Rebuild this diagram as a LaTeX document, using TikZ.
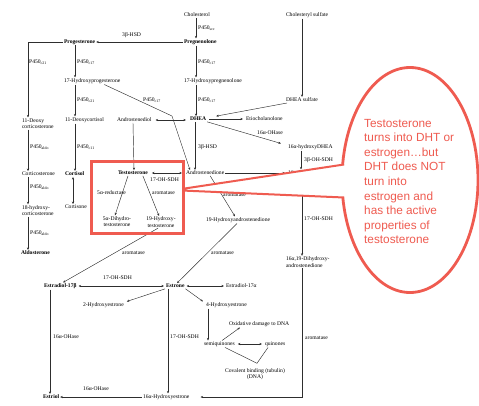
\documentclass[tikz,border=0pt]{standalone}
\usepackage{fontspec}
\setmainfont{Liberation Serif}
\newfontfamily\notefont{Liberation Sans}
\usetikzlibrary{arrows.meta,shapes.geometric}
\definecolor{callred}{HTML}{EF5B50}
\definecolor{inkgray}{HTML}{2E2E2E}

\begin{document}
\begin{tikzpicture}[x=1pt, y=-1pt,
  font=\fontsize{5.6}{6.4}\selectfont,
  chem/.style={inner sep=0.8pt, align=left, anchor=west},
  key/.style={chem, font=\fontsize{5.6}{6.4}\selectfont\bfseries},
  enz/.style={anchor=west, inner sep=0pt},
  ar/.style={-{Stealth[length=2.6pt,width=2.2pt]}, draw=inkgray, line width=0.45pt},
  dar/.style={{Stealth[length=2.6pt,width=2.2pt]}-{Stealth[length=2.6pt,width=2.2pt]},
              draw=inkgray, line width=0.45pt},
  ln/.style={draw=inkgray, line width=0.45pt},
  hlbox/.style={draw=callred, line width=3pt},
  note/.style={ellipse, draw=callred, line width=2.8pt, fill=white,
               minimum width=136pt, minimum height=225pt, inner sep=0pt}
]
\useasboundingbox (0,0) rectangle (479,405);

% compounds
\node[chem] (chol) at (183,15) {Cholesterol};
\node[chem] (chs) at (285,15) {Cholesteryl sulfate};
\node[key] (preg) at (183,42) {Pregnenolone};
\node[key] (prog) at (63,42) {Progesterone};
\node[chem] (ohprog) at (63,81) {17-Hydroxyprogesterone};
\node[chem] (ohpreg) at (183,81) {17-Hydroxypregnenolone};
\node[chem] (dheas) at (285,100) {DHEA sulfate};
\node[chem] (doc) at (21,123.5) {11-Deoxy\\corticosterone};
\node[chem] (dcort) at (64,120) {11-Deoxycortisol};
\node[chem] (adiol) at (116,120) {Androstenediol};
\node[key] (dhea) at (189,119) {DHEA};
\node[chem] (etio) at (245,119) {Etiocholanolone};
\node[chem] (ohdhea) at (287,147) {16α-hydroxyDHEA};
\node[chem] (cortico) at (21,174) {Corticosterone};
\node[key] (cortisol) at (64,174) {Cortisol};
\node[key] (testo) at (117,173) {Testosterone};
\node[chem] (andro) at (185,173) {Androstenedione};
\node[chem] (ohandro) at (287,173) {16α-Hydroxyandrostenedione};
\node[chem] (cortisone) at (64,207) {Cortisone};
\node[chem] (ohcort) at (21,210.5) {18-hydroxy-\\corticosterone};
\node[chem, anchor=center, align=center] (dht) at (117,221.5) {5α-Dihydro-\\testosterone};
\node[chem, anchor=center, align=center] (ohtesto) at (161,222) {19-Hydroxy-\\testosterone};
\node[chem] (oh19andro) at (205,220) {19-Hydroxyandrostenedione};
\node[key] (aldo) at (20,253) {Aldosterone};
\node[chem] (dioh) at (285,262) {16α,19-Dihydroxy-\\androstenedione};
\node[key] (e2b) at (43,286) {Estradiol-17β};
\node[key] (e1) at (165,286) {Estrone};
\node[chem] (e2a) at (225,286) {Estradiol-17α};
\node[chem] (oh2e1) at (82,305) {2-Hydroxyestrone};
\node[chem] (oh4e1) at (205,305) {4-Hydroxyestrone};
\node[chem] (oxdna) at (228,324) {Oxidative damage to DNA};
\node[chem] (semi) at (203,344) {semiquinones};
\node[chem] (quin) at (264,344) {quinones};
\node[chem, anchor=center, align=center] (cova) at (255,374) {Covalent binding (tubulin)\\(DNA)};
\node[key] (e3) at (42,397) {Estriol};
\node[chem] (oh16e1) at (142,397) {16α-Hydroxyestrone};

% top of the pathway
\draw[ar] ([xshift=13pt]chol.south west) -- ([xshift=13pt]preg.north west);
\node[enz] at (198,28) {P450\textsubscript{scc}};
\draw[ar] (preg.west) -- (prog.east);
\node[enz] at (122,35) {3β-HSD};
\coordinate (bendL) at (28,42);
\draw[ar] (prog.west) -- (bendL) -- (bendL |- doc.north);
\node[enz] at (29,62) {P450\textsubscript{c21}};
\draw[ar] ([xshift=12pt]prog.south west) -- ([xshift=12pt]ohprog.north west);
\node[enz] at (77,62) {P450\textsubscript{c17}};
\draw[ar] ([xshift=13pt]preg.south west) -- ([xshift=13pt]ohpreg.north west);
\node[enz] at (198,62) {P450\textsubscript{c17}};
\draw[ar] ([xshift=17pt]chs.south west) -- ([xshift=17pt]dheas.north west);

% corticoids
\draw[ar] ([xshift=12pt]ohprog.south west) -- ([xshift=11pt]dcort.north west);
\node[enz] at (77,100) {P450\textsubscript{c21}};
\draw[ar] ([xshift=11pt]dcort.south west) -- ([xshift=11pt]cortisol.north west);
\node[enz] at (77,147) {P450\textsubscript{c11}};
\draw[dar] ([xshift=9pt]cortisol.south west) -- ([xshift=9pt]cortisone.north west);
\draw[ar] ([xshift=7pt]doc.south west) -- ([xshift=7pt]cortico.north west);
\node[enz] at (30,147) {P450\textsubscript{aldo}};
\draw[ar] ([xshift=7pt]cortico.south west) -- ([xshift=7pt]ohcort.north west);
\node[enz] at (30,187) {P450\textsubscript{aldo}};
\draw[ar] ([xshift=7pt]ohcort.south west) -- ([xshift=8pt]aldo.north west);
\node[enz] at (30,233) {P450\textsubscript{aldo}};

% androgens
\coordinate (bend17) at (172,116);
\draw[ar] ([xshift=-17pt]ohprog.south east) -- (bend17) -- ([xshift=5pt]andro.north west);
\node[enz] at (143,100) {P450\textsubscript{c17}};
\draw[ar] ([xshift=13pt]ohpreg.south west) -- ([xshift=7pt]dhea.north west);
\node[enz] at (198,100) {P450\textsubscript{c17}};
\draw[ar] ([xshift=2pt]dheas.south west) -- ([xshift=9pt]dhea.north east);
\draw[dar, shorten <=3pt, shorten >=3pt] (adiol.east) -- (adiol.east -| dhea.west);
\draw[ar, shorten <=2pt, shorten >=2pt] (dhea.east) -- (etio.west);
\draw[ar] (dhea.south east) -- ([xshift=-6pt]ohdhea.north west);
\node[enz] at (257,133) {16α-OHase};
\draw[ar] ([xshift=14pt]ohdhea.south west) -- ([xshift=14pt]ohandro.north west);
\node[enz] at (304,160) {3β-OH-SDH};
\draw[ar] ([xshift=6pt]dhea.south west) -- ([xshift=10pt]andro.north west);
\node[enz] at (198,147) {3β-HSD};
\draw[ar, shorten >=2pt] (andro.east) -- (ohandro.west);
\draw[dar, shorten <=3pt, shorten >=3pt] (testo.east) -- (andro.west);
\node[enz] at (150,180) {17-OH-SDH};
\draw[ar] ([xshift=17pt]adiol.south west) -- ([xshift=17pt]testo.north west);
\draw[ar] ([xshift=11pt]testo.south west) -- ([xshift=-2pt]dht.north);
\node[enz] at (97,193) {5α-reductase};
\draw[ar] ([xshift=-6pt]testo.south east) -- ([xshift=-2pt]ohtesto.north);
\node[enz] at (152,193) {aromatase};
\draw[ar] ([xshift=-15pt]andro.south east) -- ([xshift=30pt]oh19andro.north west);
\node[enz] at (223,195) {aromatase};

% estrogens
\draw[ar] ([xshift=32pt]oh19andro.south west) -- ([xshift=12pt]e1.north west);
\node[enz] at (211,253) {aromatase};
\draw[ar] ([xshift=-3pt]ohtesto.south) -- ([xshift=20pt]e2b.north west);
\node[enz] at (122,253) {aromatase};
\draw[dar, shorten <=1pt, shorten >=1pt] (e2b.east) -- (e1.west);
\node[enz] at (103,278) {17-OH-SDH};
\draw[dar, shorten <=1pt, shorten >=1pt] (e1.east) -- (e2a.west);
\draw[ar] (e1.south west) -- ([xshift=2pt]oh2e1.north east);
\draw[ar] (e1.south east) -- ([xshift=-2pt]oh4e1.north west);
\draw[ar] ([xshift=3pt]oh4e1.south west) -- ([xshift=5pt]semi.north west);
\draw[ar] ([xshift=19pt]semi.north west) -- ([xshift=12pt]oxdna.south west);
\draw[dar, shorten <=2pt, shorten >=2pt] (semi.east) -- (quin.west);
\coordinate (join) at ([xshift=2pt,yshift=4pt]cova.north);
\draw[ln] ([xshift=22pt]semi.south west) -- (join) -- ([xshift=4pt]quin.south west);
\draw[ar] ([xshift=3pt]e1.south west) -- ([xshift=26pt]oh16e1.north west);
\node[enz] at (170,337) {17-OH-SDH};
\draw[ar] ([xshift=7pt]e2b.south west) -- ([xshift=8pt]e3.north west);
\node[enz] at (53,337) {16α-OHase};
\draw[ar] (oh16e1.west) -- (e3.east);
\node[enz] at (83,389) {16α-OHase};
\draw[ar] ([xshift=15pt]ohandro.south west) -- ([xshift=17pt]dioh.north west);
\node[enz] at (304,219) {17-OH-SDH};
\draw[ar] ([xshift=17pt]dioh.south west) |- ([xshift=10pt]oh16e1.east);
\node[enz] at (305,338) {aromatase};

% highlight and callout
\draw[hlbox] (91,161) rectangle (183,233);
\node[note] (bubble) at (410,180) {};
\coordinate (tipA) at (184,188.6);
\coordinate (tipB) at (184,190.6);
\fill[white] (tipA) -- (344,164.5) -- (352,181) -- (344,197.5) -- (tipB) -- cycle;
\draw[callred, line width=2pt] (tipA) -- (344,164.5) (tipB) -- (344,197.5);
\node[anchor=west, align=left, inner sep=0pt, text=callred,
      font=\notefont\fontsize{11.8}{14.6}\selectfont] (notetxt) at (364,181.5)
  {Testosterone\\turns into DHT or\\estrogen…but\\DHT does NOT\\turn into\\estrogen and\\has the active\\properties of\\testosterone};
\end{tikzpicture}
\end{document}
